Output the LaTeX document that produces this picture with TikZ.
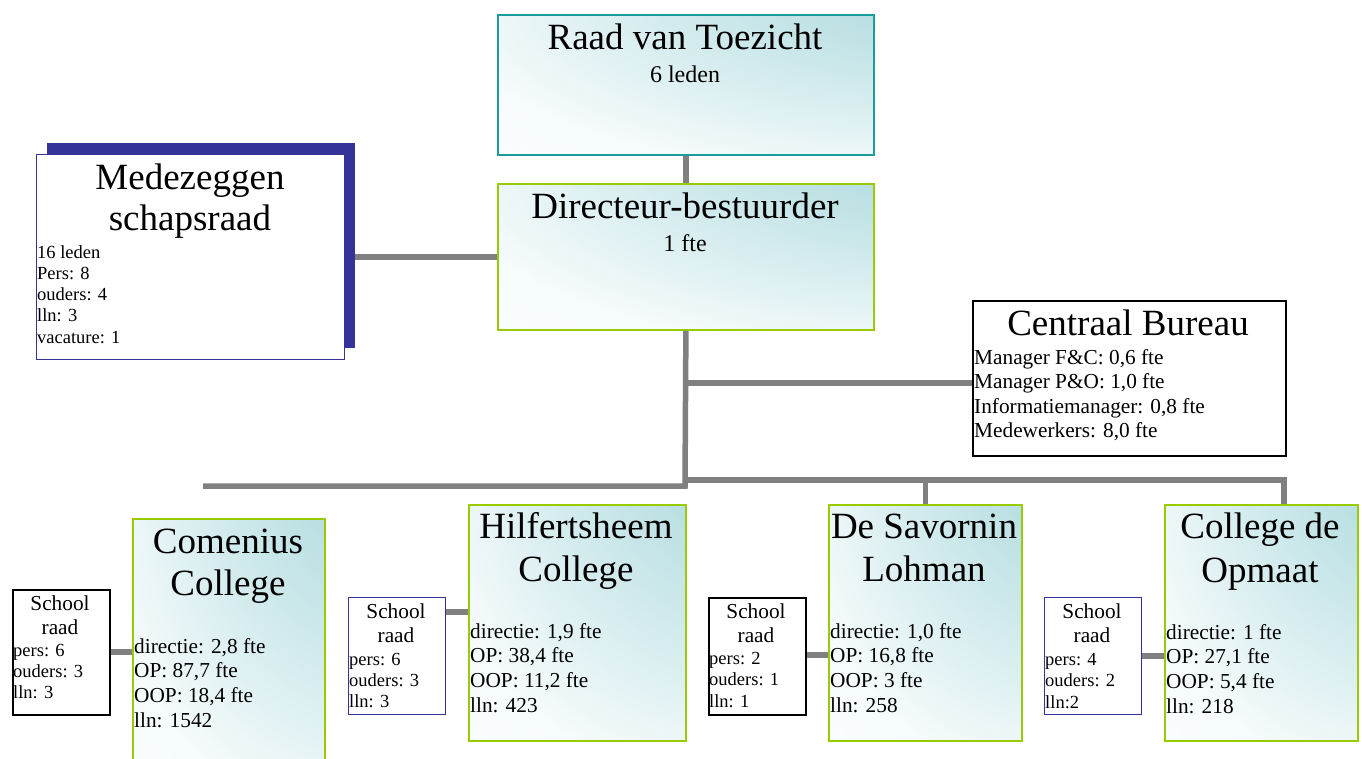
\documentclass[tikz,border=0pt]{standalone}
\usepackage{fontspec}
\setmainfont{Liberation Serif}
\usetikzlibrary{calc}
\definecolor{lineGray}{HTML}{808080}
\definecolor{tealBorder}{HTML}{1A9C9C}
\definecolor{greenBorder}{HTML}{99CC00}
\definecolor{navy}{HTML}{333399}
\definecolor{shadeTeal}{HTML}{B2DCE0}
\pgfdeclareradialshading{tealcorner}{\pgfpoint{50bp}{50bp}}{%
  color(0bp)=(shadeTeal); color(20bp)=(shadeTeal); color(42bp)=(shadeTeal!55!white);
  color(62bp)=(shadeTeal!12!white); color(80bp)=(white); color(150bp)=(white)}
\newcommand\detlines[6]{\foreach \t [count=\i] in {#6} {\node[#1] (#2-\i) at (#3, {#4+#5*(\i-1)}) {\t};}}
\tikzset{
  conn/.style={draw=lineGray, line width=5.5pt},
  shadedbox/.style={rectangle, anchor=north west, inner sep=0pt, line width=1.8pt,
    shade, shading=tealcorner},
  tealbox/.style={shadedbox, draw=tealBorder},
  greenbox/.style={shadedbox, draw=greenBorder},
  plainbox/.style={rectangle, anchor=north west, inner sep=0pt, fill=white, draw=black, line width=1.5pt},
  navybox/.style={plainbox, draw=navy, line width=1.4pt},
  shadowbox/.style={rectangle, anchor=north west, inner sep=0pt, fill=navy},
  ttl/.style={font=\fontsize{37}{40}\selectfont, anchor=base, inner sep=0pt},
  subttl/.style={font=\fontsize{24}{26}\selectfont, anchor=base, inner sep=0pt},
  srttl/.style={font=\fontsize{21.3}{24}\selectfont, anchor=base, inner sep=0pt},
  det/.style={font=\fontsize{21.3}{24}\selectfont, anchor=base west, inner sep=0pt},
  sdet/.style={font=\fontsize{18.5}{21}\selectfont, anchor=base west, inner sep=0pt},
}
\begin{document}
\begin{tikzpicture}[x=1pt,y=-1pt]
\useasboundingbox (0,0) rectangle (1362,758);
\clip (0,0) rectangle (1362,758);
\fill[white] (0,0) rectangle (1362,758);

% boxes
\node[tealbox, minimum width=376, minimum height=140] (rvt) at (497,14) {};
\node[greenbox, minimum width=376, minimum height=146] (dir) at (497,183) {};
\node[shadowbox, minimum width=308, minimum height=205] (mzs) at (47,143) {};
\node[navybox, minimum width=308, minimum height=205] (mz) at (36,154) {};
\node[plainbox, minimum width=313, minimum height=155] (cb) at (972,300) {};
\node[greenbox, minimum width=192, minimum height=262] (cc) at (132,518) {};
\node[greenbox, minimum width=217, minimum height=236] (hc) at (468,504) {};
\node[greenbox, minimum width=193, minimum height=236] (dsl) at (828,504) {};
\node[greenbox, minimum width=193, minimum height=236] (cop) at (1164,504) {};
\node[plainbox, minimum width=97, minimum height=125] (sr1) at (12,589) {};
\node[navybox, minimum width=97, minimum height=117] (sr2) at (348,597) {};
\node[plainbox, minimum width=97, minimum height=117] (sr3) at (708,597) {};
\node[navybox, minimum width=97, minimum height=117] (sr4) at (1044,597) {};

% connectors
\coordinate (busJ) at (685,486);
\coordinate (busL) at (203,486);
\coordinate (cbJ) at (685,383);
\coordinate (busR) at (685,480);
\coordinate (busRend) at (1284,480);
\draw[conn] (rvt.south) -- (dir.north);
\draw[conn] (dir.west) -- (dir.west -| mzs.east);
\draw[conn] (dir.south) -- (busJ) -- (busL);
\draw[conn] (cbJ) -- (cbJ -| cb.west);
\draw[conn] (busR) -- (busRend) -- (busRend |- cop.north);
\draw[conn] (dsl.north |- busR) -- (dsl.north);
\draw[conn] (sr1.east |- 0,652) -- (cc.west |- 0,652);
\draw[conn] (sr2.east |- 0,612) -- (hc.west |- 0,612);
\draw[conn] (sr3.east |- 0,655) -- (dsl.west |- 0,655);
\draw[conn] (sr4.east |- 0,656) -- (cop.west |- 0,656);

% texts
\node[ttl] (rvt-t) at (685,49) {Raad van Toezicht};
\node[subttl] (rvt-s) at (685,82) {6 leden};
\node[ttl] (dir-t) at (685,218) {Directeur-bestuurder};
\node[subttl] (dir-s) at (685,251) {1 fte};

\node[ttl] (mz-t1) at (190,189) {Medezeggen};
\node[ttl] (mz-t2) at (190,230) {schapsraad};
\detlines{sdet}{mz-d}{37}{258}{21.3}{{16 leden},{Pers: 8},{ouders: 4},{lln: 3},{vacature: 1}}

\node[ttl] (cb-t) at (1128,335) {Centraal Bureau};
\detlines{det}{cb-d}{974}{364}{24.5}{{Manager F\&C: 0,6 fte},{Manager P\&O: 1,0 fte},{Informatiemanager: 0,8 fte},{Medewerkers: 8,0 fte}}

\node[ttl] (cc-t1) at (228,553) {Comenius};
\node[ttl] (cc-t2) at (228,595) {College};
\detlines{det}{cc-d}{134}{653}{24.7}{{directie: 2,8 fte},{OP: 87,7 fte},{OOP: 18,4 fte},{lln: 1542}}

\node[ttl] (hc-t1) at (576,538) {Hilfertsheem};
\node[ttl] (hc-t2) at (576,581) {College};
\detlines{det}{hc-d}{470}{638}{24.7}{{directie: 1,9 fte},{OP: 38,4 fte},{OOP: 11,2 fte},{lln: 423}}

\node[ttl] (dsl-t1) at (924,538) {De Savornin};
\node[ttl] (dsl-t2) at (924,581) {Lohman};
\detlines{det}{dsl-d}{830}{638}{24.7}{{directie: 1,0 fte},{OP: 16,8 fte},{OOP: 3 fte},{lln: 258}}

\node[ttl] (cop-t1) at (1260,538) {College de};
\node[ttl] (cop-t2) at (1260,582) {Opmaat};
\detlines{det}{cop-d}{1166}{639}{24.7}{{directie: 1 fte},{OP: 27,1 fte},{OOP: 5,4 fte},{lln: 218}}

\node[srttl] (sr1-t1) at (60,610) {School};
\node[srttl] (sr1-t2) at (60,634) {raad};
\detlines{sdet}{sr1-d}{13}{656}{21}{{pers: 6},{ouders: 3},{lln: 3}}

\node[srttl] (sr2-t1) at (396,618) {School};
\node[srttl] (sr2-t2) at (396,642) {raad};
\detlines{sdet}{sr2-d}{349}{665}{21}{{pers: 6},{ouders: 3},{lln: 3}}

\node[srttl] (sr3-t1) at (756,618) {School};
\node[srttl] (sr3-t2) at (756,642) {raad};
\detlines{sdet}{sr3-d}{709}{664}{21.5}{{pers: 2},{ouders: 1},{lln: 1}}

\node[srttl] (sr4-t1) at (1092,618) {School};
\node[srttl] (sr4-t2) at (1092,642) {raad};
\detlines{sdet}{sr4-d}{1045}{665}{21.5}{{pers: 4},{ouders: 2},{lln:2}}
\end{tikzpicture}
\end{document}
